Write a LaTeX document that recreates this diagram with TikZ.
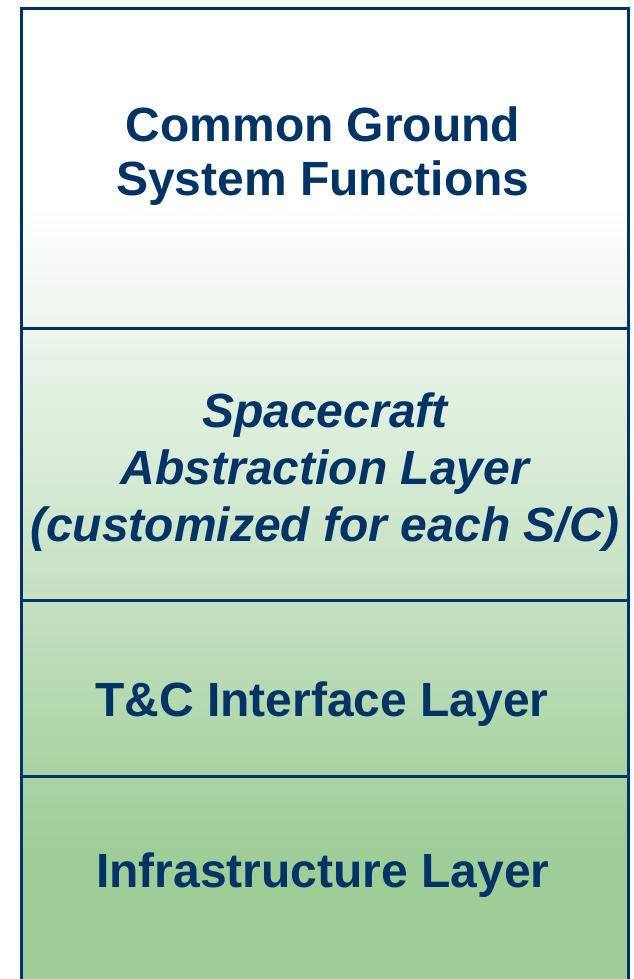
\documentclass[tikz,border=0pt]{standalone}
\usepackage{fontspec}
\setmainfont{Liberation Sans}

\definecolor{laynavy}{RGB}{0,51,102}
\definecolor{laygreen}{RGB}{158,205,152}
% white at the top, fading to green towards the bottom
\pgfdeclareverticalshading{layerfade}{100bp}{color(0bp)=(laygreen); color(32bp)=(laygreen); color(65bp)=(white); color(100bp)=(white)}

\begin{document}
\begin{tikzpicture}
  [x=0.75pt,y=-0.75pt,
   layer/.style={text=laynavy,font=\fontsize{36}{40}\selectfont\bfseries,align=center,inner sep=0pt},
   divider/.style={draw=laynavy,line width=2.25pt}]

  \useasboundingbox (0,0) rectangle (633,979);
  \clip (0,0) rectangle (633,979);

  % the stack
  \path[shading=layerfade,divider] (21.5,8) rectangle (628.5,990);

  \coordinate (d1l) at (21.5,328.5);  \coordinate (d1r) at (628.5,328.5);
  \coordinate (d2l) at (21.5,600.5);  \coordinate (d2r) at (628.5,600.5);
  \coordinate (d3l) at (21.5,776);    \coordinate (d3r) at (628.5,776);

  \draw[divider] (d1l) -- (d1r);
  \draw[divider] (d2l) -- (d2r);
  \draw[divider] (d3l) -- (d3r);

  % layer names
  \node[layer] (common) at (323,156) {Common Ground\\System Functions};
  \node[layer,font=\fontsize{36}{42.75}\selectfont\bfseries\itshape] (scal) at (325,472.5)
    {Spacecraft\\Abstraction Layer\\(customized for each S/C)};
  \node[layer] (tci) at (322,704) {T\&C Interface Layer};
  \node[layer] (infra) at (323,875.5) {Infrastructure Layer};

\end{tikzpicture}
\end{document}
